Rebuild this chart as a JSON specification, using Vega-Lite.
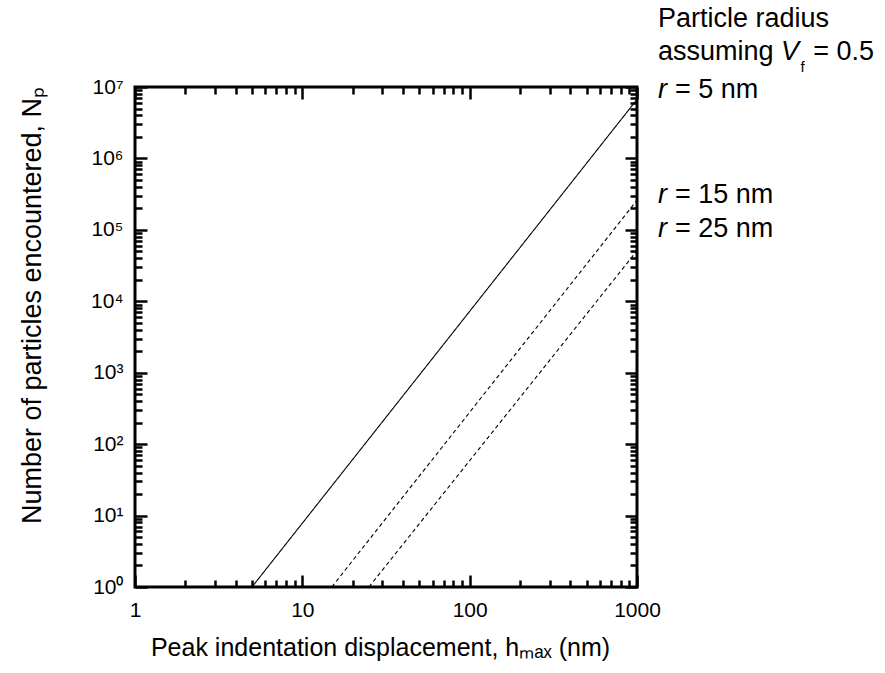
{
  "$schema": "https://vega.github.io/schema/vega-lite/v6.json",
  "autosize": "none",
  "width": 502,
  "height": 500,
  "padding": {"left": 135, "top": 87, "right": 248, "bottom": 86},
  "background": "white",
  "config": {
    "view": {"stroke": "black", "strokeWidth": 3},
    "font": "Liberation Sans",
    "axis": {"grid": false, "domain": false, "tickColor": "black", "tickWidth": 2.5, "labelColor": "black", "titleColor": "black", "labelFont": "Liberation Sans", "titleFont": "Liberation Sans", "labelFontSize": 21, "titleFontSize": 25, "titleFontWeight": "normal"}
  },
  "datasets": {
    "lines": [
      {"r": "r = 5 nm", "h": 5, "n": 1},
      {"r": "r = 5 nm", "h": 1000, "n": 6700000},
      {"r": "r = 15 nm", "h": 15, "n": 1},
      {"r": "r = 15 nm", "h": 1000, "n": 260000},
      {"r": "r = 25 nm", "h": 25, "n": 1},
      {"r": "r = 25 nm", "h": 1000, "n": 51000}
    ],
    "labels": [
      {"t": "Particle radius", "h": 1335, "n": 90000000},
      {"t": "assuming", "h": 1335, "n": 31000000},
      {"t": "= 0.5", "h": 11300, "n": 31000000},
      {"t": "= 5 nm", "h": 1687, "n": 9200000},
      {"t": "= 15 nm", "h": 1687, "n": 308000},
      {"t": "= 25 nm", "h": 1687, "n": 104000}
    ],
    "italics": [
      {"t": "V", "h": 7260, "n": 31000000},
      {"t": "r", "h": 1335, "n": 9200000},
      {"t": "r", "h": 1335, "n": 308000},
      {"t": "r", "h": 1335, "n": 104000}
    ],
    "subs": [
      {"t": "f", "h": 9500, "n": 19000000}
    ]
  },
  "resolve": {"axis": {"x": "independent", "y": "independent"}},
  "layer": [
    {
      "data": {"name": "lines"},
      "mark": {"type": "line", "color": "black", "strokeWidth": 1.1, "clip": true},
      "encoding": {
        "x": {
          "field": "h", "type": "quantitative",
          "scale": {"type": "log", "domain": [1, 1000], "nice": false},
          "axis": {
            "orient": "bottom",
            "values": [1,2,3,4,5,6,7,8,9,10,20,30,40,50,60,70,80,90,100,200,300,400,500,600,700,800,900,1000],
            "labelExpr": "abs(log(datum.value)/LN10 - round(log(datum.value)/LN10)) < 1e-6 ? format(datum.value, 'd') : ''",
            "tickSize": {"condition": {"test": "abs(log(datum.value)/LN10 - round(log(datum.value)/LN10)) < 1e-6", "value": -12}, "value": -7},
            "labelPadding": 24,
            "labelFlush": false,
            "labelOverlap": false,
            "title": "Peak indentation displacement, hₘₐₓ (nm)",
            "titleX": 245,
            "titlePadding": 10
          }
        },
        "y": {
          "field": "n", "type": "quantitative",
          "scale": {"type": "log", "domain": [1, 10000000], "nice": false},
          "axis": {
            "orient": "left",
            "values": [1,2,3,4,5,6,7,8,9,10,20,30,40,50,60,70,80,90,100,200,300,400,500,600,700,800,900,1000,2000,3000,4000,5000,6000,7000,8000,9000,10000,20000,30000,40000,50000,60000,70000,80000,90000,100000,200000,300000,400000,500000,600000,700000,800000,900000,1000000,2000000,3000000,4000000,5000000,6000000,7000000,8000000,9000000,10000000],
            "labelExpr": "abs(log(datum.value)/LN10 - round(log(datum.value)/LN10)) < 1e-6 ? '10' + ['⁰','¹','²','³','⁴','⁵','⁶','⁷'][round(log(datum.value)/LN10)] : ''",
            "tickSize": {"condition": {"test": "abs(log(datum.value)/LN10 - round(log(datum.value)/LN10)) < 1e-6", "value": -12}, "value": -7},
            "labelPadding": 24,
            "labelFlush": false,
            "labelOverlap": false,
            "title": "Number of particles encountered, Nₚ",
            "titleFontSize": 27,
            "titleY": 218,
            "titlePadding": 44
          }
        },
        "strokeDash": {
          "field": "r", "type": "nominal",
          "scale": {"domain": ["r = 5 nm", "r = 15 nm", "r = 25 nm"], "range": [[1, 0], [4, 3], [4, 3]]},
          "legend": null
        }
      }
    },
    {
      "data": {"name": "labels"},
      "mark": {"type": "text", "align": "left", "baseline": "middle", "fontSize": 27, "color": "black", "font": "Liberation Sans"},
      "encoding": {
        "x": {
          "field": "h", "type": "quantitative",
          "axis": {
            "orient": "top",
            "values": [1,2,3,4,5,6,7,8,9,10,20,30,40,50,60,70,80,90,100,200,300,400,500,600,700,800,900,1000],
            "labels": false,
            "title": null,
            "tickSize": {"condition": {"test": "abs(log(datum.value)/LN10 - round(log(datum.value)/LN10)) < 1e-6", "value": -12}, "value": -7}
          }
        },
        "y": {
          "field": "n", "type": "quantitative",
          "axis": {
            "orient": "right",
            "values": [1,2,3,4,5,6,7,8,9,10,20,30,40,50,60,70,80,90,100,200,300,400,500,600,700,800,900,1000,2000,3000,4000,5000,6000,7000,8000,9000,10000,20000,30000,40000,50000,60000,70000,80000,90000,100000,200000,300000,400000,500000,600000,700000,800000,900000,1000000,2000000,3000000,4000000,5000000,6000000,7000000,8000000,9000000,10000000],
            "labels": false,
            "title": null,
            "tickSize": {"condition": {"test": "abs(log(datum.value)/LN10 - round(log(datum.value)/LN10)) < 1e-6", "value": -12}, "value": -7}
          }
        },
        "text": {"field": "t"}
      }
    },
    {
      "data": {"name": "italics"},
      "mark": {"type": "text", "align": "left", "baseline": "middle", "fontSize": 27, "fontStyle": "italic", "color": "black", "font": "Liberation Sans"},
      "encoding": {
        "x": {"field": "h", "type": "quantitative", "axis": null},
        "y": {"field": "n", "type": "quantitative", "axis": null},
        "text": {"field": "t"}
      }
    },
    {
      "data": {"name": "subs"},
      "mark": {"type": "text", "align": "left", "baseline": "middle", "fontSize": 15, "color": "black", "font": "Liberation Sans"},
      "encoding": {
        "x": {"field": "h", "type": "quantitative", "axis": null},
        "y": {"field": "n", "type": "quantitative", "axis": null},
        "text": {"field": "t"}
      }
    }
  ]
}
